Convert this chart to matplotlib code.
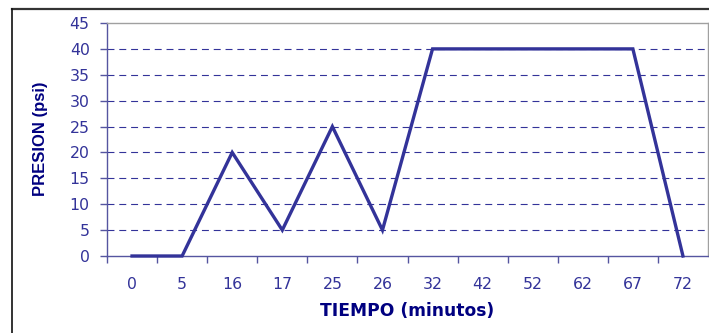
import matplotlib
matplotlib.use("Agg")
import matplotlib.pyplot as plt

plt.rcParams['font.family'] = ['DejaVu Sans']
plt.rcParams['lines.scale_dashes'] = False

categories = ["0", "5", "16", "17", "25", "26", "32", "42", "52", "62", "67", "72"]
presion = [0, 0, 20, 5, 25, 5, 40, 40, 40, 40, 40, 0]
yticks = [0, 5, 10, 15, 20, 25, 30, 35, 40, 45]

W, H = 709, 333
fig = plt.figure(figsize=(W / 100, H / 100), dpi=100)
fig.patch.set_facecolor('white')

# outer frame (only top and left visible)
fig.add_artist(plt.Line2D([12 / W, 1.0], [1 - 9 / H, 1 - 9 / H], color='#333333', lw=1.6,
                          transform=fig.transFigure))
fig.add_artist(plt.Line2D([12 / W, 12 / W], [0, 1 - 9 / H], color='#111111', lw=1.2,
                          transform=fig.transFigure))

x0, x1, ytop, ybot = 107, 708, 23, 256
ax = fig.add_axes([x0 / W, 1 - ybot / H, (x1 - x0) / W, (ybot - ytop) / H])

blue = '#333399'
xs = list(range(len(categories)))
ax.plot(xs, presion, color=blue, lw=2.4, solid_joinstyle='miter', zorder=3, clip_on=False)

ax.set_xlim(-0.5, len(categories) - 0.5)
ax.set_ylim(0, 45)
ax.set_yticks(yticks)
ax.set_xticks(xs)
ax.set_xticklabels(categories)
ax.set_xticks([i - 0.5 for i in range(len(categories))], minor=True)

for y in yticks[1:-1]:
    ax.axhline(y, color=blue, lw=0.8, dashes=(5, 3.5), zorder=1)

for s in ['left', 'bottom']:
    ax.spines[s].set_color('#5555a0')
    ax.spines[s].set_linewidth(1.0)
for s in ['top', 'right']:
    ax.spines[s].set_color('#a0a0a0')
    ax.spines[s].set_linewidth(1.0)

ax.tick_params(axis='y', direction='out', length=5, width=1, color='#5555a0',
               labelsize=11.3, labelcolor=blue, pad=7.5)
ax.tick_params(axis='x', which='major', length=0, labelsize=11.3, labelcolor=blue, pad=15)
ax.tick_params(axis='x', which='minor', direction='out', length=5, width=1, color='#5555a0')

fig.text(407.5 / W, 1 - 310.5 / H, 'TIEMPO (minutos)', ha='center', va='center',
         fontsize=12.3, fontweight='bold', color='#000080')
fig.text(41 / W, 1 - 138.5 / H, 'PRESION (psi)', ha='center', va='center', rotation=90,
         fontsize=12, fontweight='bold', color='#000080',
         family=['Liberation Sans', 'DejaVu Sans'])

fig.savefig('out.png', dpi=100)
